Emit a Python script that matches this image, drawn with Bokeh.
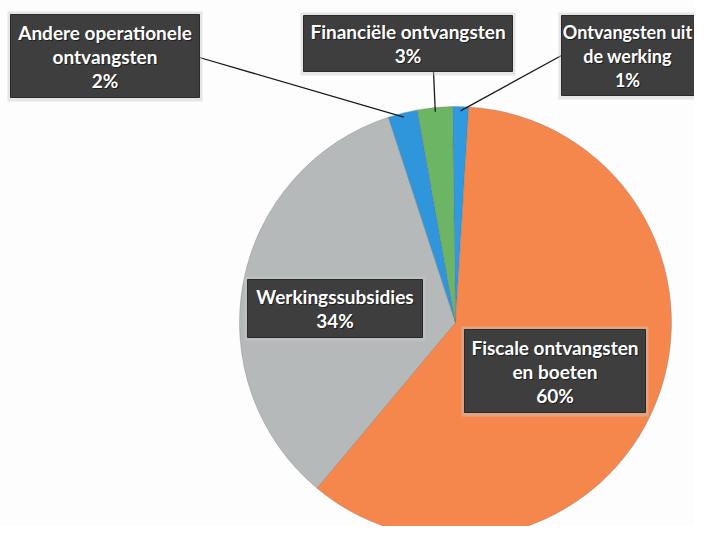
import numpy as np
from bokeh.plotting import figure
from bokeh.models import Range1d, ColumnDataSource
from bokeh.core.properties import value
from bokeh.embed import file_html
from bokeh.resources import INLINE

# ---- data ----
categories = ["Ontvangsten uit de werking", "Fiscale ontvangsten en boeten",
              "Werkingssubsidies", "Andere operationele ontvangsten",
              "Financiële ontvangsten"]
label_text = ["Ontvangsten uit\nde werking", "Fiscale ontvangsten\nen boeten",
              "Werkingssubsidies", "Andere operationele\nontvangsten",
              "Financiële ontvangsten"]
shares = [1.2, 60.1, 33.9, 2.2, 2.6]
pct_labels = ["1%", "60%", "34%", "2%", "3%"]

# ---- style / layout ----
colors = ["#2f9ae0", "#f5874d", "#b5b9ba", "#2f96dc", "#6cb565"]
CX, CY, R = 455, 322, 216
START = -0.8  # degrees clockwise from 12 o'clock
# label boxes: left, right, top, bottom  (screen px)
boxes = {
    "Ontvangsten uit de werking": (561, 712, 15, 95),
    "Fiscale ontvangsten en boeten": (464, 645, 329, 412),
    "Werkingssubsidies": (247, 422, 279, 337),
    "Andere operationele ontvangsten": (10, 199, 14, 97),
    "Financiële ontvangsten": (303, 512, 15, 71),
}
text_cx = {"Ontvangsten uit de werking": 627}
font_sizes = {"Ontvangsten uit de werking": "18px"}
# leader line anchor on box
anchors = {
    "Ontvangsten uit de werking": (561, 55),
    "Andere operationele ontvangsten": (199, 57),
    "Financiële ontvangsten": (433, 71),
}
LINE_H = 24
FS = "19px"

p = figure(width=694, height=526, x_range=Range1d(0, 694), y_range=Range1d(526, 0),
           output_backend="svg", toolbar_location=None, min_border=0,
           background_fill_color="#fdfdfd", border_fill_color="#fdfdfd",
           outline_line_color=None)
p.axis.visible = False
p.grid.visible = False

vals = np.array(shares, dtype=float)
frac = vals / vals.sum()
cum_after = np.cumsum(frac)
cum_before = cum_after - frac
theta_start = START + cum_before * 360.0
theta_end = START + cum_after * 360.0
start_ang = 90 - theta_start
end_ang = 90 - theta_end

src = ColumnDataSource(dict(cat=categories, start=start_ang, end=end_ang, color=colors))
p.wedge(x=CX, y=CY, radius=R, start_angle="start", end_angle="end",
        start_angle_units="deg", end_angle_units="deg", direction="clock",
        fill_color="color", line_color="#6a6a6a", line_width=0.6, line_alpha=0.5,
        source=src)

# leader lines
mid = np.deg2rad((theta_start + theta_end) / 2)
for i, c in enumerate(categories):
    if c in anchors:
        ax, ay = anchors[c]
        ex = CX + R * np.sin(mid[i]) * 0.98
        ey = CY - R * np.cos(mid[i]) * 0.98
        p.line([ax, ex], [ay, ey], line_color="#1a1a1a", line_width=1.3)

# label boxes
for i, c in enumerate(categories):
    l, r, t, b = boxes[c]
    p.quad(left=l - 3, right=r + 3, top=t - 3, bottom=b + 4, fill_color="#c8c8c8",
           fill_alpha=0.45, line_color=None)
    p.quad(left=l, right=r, top=t, bottom=b, fill_color="#3e3e3e",
           line_color="#2a2a2a", line_width=1)
    lines = label_text[i].split("\n") + [pct_labels[i]]
    n = len(lines)
    midy = (t + b) / 2
    cx = text_cx.get(c, (l + r) / 2)
    fs = font_sizes.get(c, FS)
    xs = [cx] * n
    ys = [midy + (k - (n - 1) / 2) * LINE_H for k in range(n)]
    p.text(x=[x + 1 for x in xs], y=[y + 1 for y in ys], text=lines,
           text_font=value("Lato"), text_font_style="bold", text_font_size=fs,
           text_color="#111111", text_alpha=0.7, text_align="center",
           text_baseline="middle")
    p.text(x=xs, y=ys, text=lines,
           text_font=value("Lato"), text_font_style="bold", text_font_size=fs,
           text_color="#ffffff", text_align="center", text_baseline="middle")

open("out.html", "w").write(file_html(p, INLINE))
